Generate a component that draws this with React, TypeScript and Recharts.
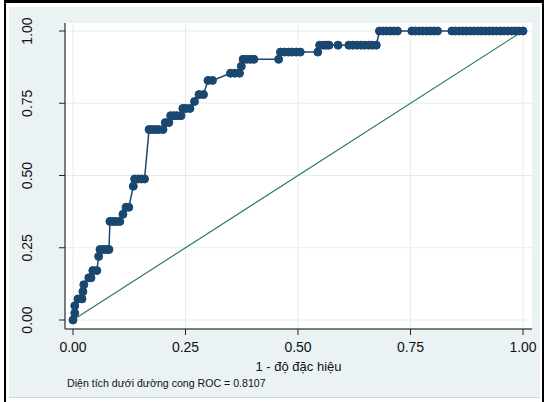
import React from "react";
import { ComposedChart, Line, XAxis, YAxis, CartesianGrid } from "recharts";

// 1 - specificity (false positive rate), one line per sensitivity level
const fpr = [
  0, 0.004, 0.004, 0.011, 0.02, 0.022, 0.024, 0.035, 0.04, 0.044, 0.053, 0.057,
  0.06, 0.067, 0.074, 0.08,
  0.082, 0.089, 0.096, 0.104,
  0.111,
  0.118, 0.124,
  0.134,
  0.137, 0.145, 0.152, 0.159,
  0.169, 0.176, 0.183, 0.19, 0.2,
  0.205, 0.213,
  0.217, 0.224, 0.231, 0.24,
  0.244, 0.251, 0.26,
  0.27,
  0.28, 0.29,
  0.3, 0.31,
  0.35, 0.36, 0.37,
  0.374,
  0.378, 0.386, 0.394, 0.402, 0.457,
  0.461, 0.47, 0.479, 0.487, 0.496, 0.505, 0.544,
  0.548, 0.557, 0.563, 0.569, 0.589, 0.613, 0.622, 0.631, 0.64, 0.648, 0.657, 0.665, 0.674,
  0.681, 0.689, 0.697, 0.705, 0.713, 0.721,
  0.753, 0.761, 0.769, 0.777, 0.786, 0.794, 0.802, 0.81,
  0.842, 0.85, 0.858, 0.866, 0.874, 0.883, 0.891, 0.9, 0.908, 0.916,
  0.925, 0.933, 0.941, 0.95, 0.958, 0.966, 0.975, 0.983, 0.991, 1.0,
];
// sensitivity, same line layout as fpr
const tpr = [
  0, 0.024, 0.049, 0.073, 0.073, 0.098, 0.122, 0.146, 0.146, 0.171, 0.171, 0.22,
  0.244, 0.244, 0.244, 0.244,
  0.341, 0.341, 0.341, 0.341,
  0.366,
  0.39, 0.39,
  0.463,
  0.488, 0.488, 0.488, 0.488,
  0.659, 0.659, 0.659, 0.659, 0.659,
  0.683, 0.683,
  0.707, 0.707, 0.707, 0.707,
  0.732, 0.732, 0.732,
  0.756,
  0.78, 0.78,
  0.829, 0.829,
  0.854, 0.854, 0.854,
  0.878,
  0.902, 0.902, 0.902, 0.902, 0.902,
  0.927, 0.927, 0.927, 0.927, 0.927, 0.927, 0.927,
  0.951, 0.951, 0.951, 0.951, 0.951, 0.951, 0.951, 0.951, 0.951, 0.951, 0.951, 0.951, 0.951,
  1, 1, 1, 1, 1, 1,
  1, 1, 1, 1, 1, 1, 1, 1,
  1, 1, 1, 1, 1, 1, 1, 1, 1, 1,
  1, 1, 1, 1, 1, 1, 1, 1, 1, 1,
];
const diagX = [0, 1];
const diagY = [0, 1];
const xTicks = [0, 0.25, 0.5, 0.75, 1];
const yTicks = [0, 0.25, 0.5, 0.75, 1];
const xTitle = "1 - độ đặc hiệu";
const caption = "Diện tích dưới đường cong ROC = 0.8107";

const roc = fpr.map((x, i) => ({ x, y: tpr[i] }));
const diag = diagX.map((x, i) => ({ x, y: diagY[i] }));

const NAVY = "#1A476F";
const GREEN = "#2F7A66";
const BG = "#EAF2F3";
const FONT = "'Liberation Sans', Arial, sans-serif";

const YTick = (props: any) => {
  const { y, payload } = props;
  return (
    <text
      x={27}
      y={y}
      transform={`rotate(-90, 27, ${y})`}
      textAnchor="middle"
      dominantBaseline="central"
      fontSize={14}
      fontFamily={FONT}
      fill="#111"
    >
      {Number(payload.value).toFixed(2)}
    </text>
  );
};

const XTick = (props: any) => {
  const { x, payload } = props;
  return (
    <text
      x={x}
      y={347}
      textAnchor="middle"
      dominantBaseline="central"
      fontSize={14}
      fontFamily={FONT}
      fill="#111"
    >
      {Number(payload.value).toFixed(2)}
    </text>
  );
};

const Dot = (props: any) => {
  const { cx, cy } = props;
  if (cx == null || cy == null) return null;
  return <circle cx={cx} cy={cy} r={4} fill={NAVY} stroke={NAVY} strokeWidth={1} />;
};

export default function App() {
  return (
    <div style={{ position: "fixed", left: 0, top: 0, width: 544, height: 402, background: "#fff", overflow: "hidden" }}>
      <div style={{ position: "absolute", left: 4, top: 0, width: 540, height: 3, background: "#000" }} />
      <div style={{ position: "absolute", left: 4, top: 0, width: 2, height: 402, background: "#000" }} />
      <div style={{ position: "absolute", left: 542, top: 0, width: 2, height: 402, background: "#000" }} />
      <div style={{ position: "absolute", left: 9, top: 7, width: 531, height: 390, background: BG, borderBottom: "1px solid #cfd6d8" }} />
      <div style={{ position: "absolute", left: 0, top: 0 }}>
        <ComposedChart
          width={544}
          height={402}
          margin={{ top: 23, right: 12, bottom: 43, left: 0 }}
        >
          <CartesianGrid
            fill="#ffffff"
            stroke="#E3EDEF"
            strokeWidth={1}
            horizontalValues={yTicks}
            verticalValues={xTicks}
          />
          <XAxis
            dataKey="x"
            type="number"
            domain={[0, 1]}
            ticks={xTicks}
            padding={{ left: 8, right: 9 }}
            height={30}
            axisLine={{ stroke: "#555", strokeWidth: 1.5 }}
            tickLine={{ stroke: "#222", strokeWidth: 1 }}
            tickSize={6}
            tick={<XTick />}
          />
          <YAxis
            dataKey="y"
            type="number"
            domain={[0, 1]}
            ticks={yTicks}
            padding={{ top: 8, bottom: 9 }}
            width={65}
            axisLine={{ stroke: "#555", strokeWidth: 1.5 }}
            tickLine={{ stroke: "#222", strokeWidth: 1 }}
            tickSize={6}
            tick={<YTick />}
          />
          <Line
            data={diag}
            dataKey="y"
            type="linear"
            stroke={GREEN}
            strokeWidth={1.2}
            dot={false}
            activeDot={false}
            isAnimationActive={false}
          />
          <Line
            data={roc}
            dataKey="y"
            type="linear"
            stroke={NAVY}
            strokeWidth={1.5}
            dot={<Dot />}
            activeDot={false}
            isAnimationActive={false}
          />
          <text
            x={67}
            y={383}
            textAnchor="start"
            dominantBaseline="central"
            fontSize={10.6}
            fontFamily={FONT}
            fill="#111"
          >
            {caption}
          </text>
          <text
            x={298.5}
            y={366}
            textAnchor="middle"
            dominantBaseline="central"
            fontSize={13}
            fontFamily={FONT}
            fill="#111"
          >
            {xTitle}
          </text>
        </ComposedChart>
      </div>
    </div>
  );
}
